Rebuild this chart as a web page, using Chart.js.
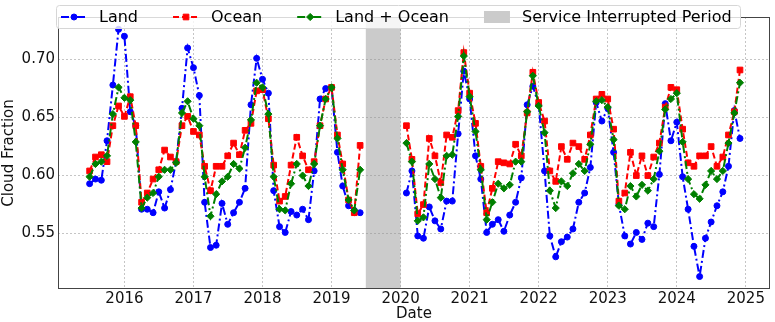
<!DOCTYPE html>
<html><head><meta charset="utf-8">
<script src="https://cdn.jsdelivr.net/npm/chart.js@4.4.1/dist/chart.umd.min.js"></script>
<style>html,body{margin:0;padding:0;background:#fff}#wrap{width:775px;height:322px}</style>
</head><body><div id="wrap"><canvas id="c" width="775" height="322"></canvas></div>
<script>
// ---- periods (first-of-month dates) ----
const period1 = ['2015-07', '2019-06'];
const period2 = ['2020-02', '2024-12'];
const interruption = ['2019-07', '2020-01'];
const yearTicks = [2016, 2017, 2018, 2019, 2020, 2021, 2022, 2023, 2024, 2025];
const yTicks = [0.55, 0.60, 0.65, 0.70];
const xLimits = [2015.038, 2025.35];

// ---- series values ----
const land1 = [0.593,0.597,0.596,0.630,0.678,0.726,
  0.720,0.655,0.643,0.571,0.571,0.568,0.586,0.572,0.588,0.612,0.658,0.710,
  0.693,0.669,0.577,0.538,0.540,0.576,0.558,0.568,0.577,0.589,0.661,0.701,
  0.683,0.671,0.587,0.556,0.551,0.569,0.566,0.571,0.562,0.604,0.666,0.675,
  0.676,0.620,0.591,0.574,0.570,0.568];
const ocean1 = [0.604,0.616,0.618,0.612,0.643,0.660,
  0.651,0.668,0.643,0.577,0.585,0.597,0.605,0.622,0.616,0.612,0.643,0.651,
  0.638,0.635,0.608,0.587,0.608,0.608,0.617,0.628,0.618,0.639,0.645,0.673,
  0.674,0.649,0.609,0.578,0.582,0.609,0.633,0.617,0.605,0.612,0.643,0.666,
  0.676,0.635,0.610,0.579,0.568,0.626];
const both1 = [0.599,0.610,0.612,0.617,0.653,0.676,
  0.667,0.665,0.629,0.572,0.581,0.585,0.599,0.605,0.605,0.611,0.654,0.664,
  0.649,0.643,0.599,0.565,0.584,0.595,0.599,0.610,0.606,0.624,0.648,0.680,
  0.676,0.653,0.599,0.571,0.570,0.593,0.610,0.600,0.591,0.610,0.643,0.666,
  0.676,0.632,0.605,0.579,0.570,0.605];

const land2 = [0.585,0.604,0.548,0.546,0.573,0.561,0.554,0.578,0.578,0.636,0.690,
  0.666,0.617,0.597,0.551,0.558,0.562,0.552,0.566,0.577,0.598,0.661,0.677,
  0.661,0.604,0.548,0.530,0.543,0.547,0.554,0.577,0.585,0.607,0.663,0.647,
  0.658,0.620,0.575,0.548,0.541,0.551,0.545,0.559,0.556,0.601,0.662,0.630,
  0.646,0.599,0.571,0.539,0.513,0.546,0.560,0.574,0.586,0.608,0.656,0.632];
const ocean2 = [0.643,0.614,0.567,0.575,0.632,0.617,0.594,0.635,0.633,0.656,0.706,
  0.671,0.645,0.608,0.568,0.589,0.612,0.611,0.610,0.627,0.617,0.654,0.689,
  0.663,0.647,0.604,0.595,0.625,0.614,0.628,0.625,0.614,0.635,0.666,0.670,
  0.666,0.640,0.578,0.585,0.620,0.600,0.617,0.600,0.616,0.628,0.659,0.676,
  0.674,0.640,0.611,0.608,0.617,0.617,0.625,0.608,0.616,0.635,0.655,0.691];
const both2 = [0.628,0.612,0.561,0.564,0.610,0.597,0.581,0.617,0.618,0.651,0.703,
  0.668,0.638,0.605,0.562,0.577,0.593,0.589,0.592,0.612,0.612,0.655,0.686,
  0.660,0.637,0.587,0.572,0.595,0.591,0.602,0.610,0.604,0.627,0.664,0.665,
  0.659,0.631,0.574,0.571,0.591,0.582,0.592,0.587,0.597,0.621,0.657,0.666,
  0.671,0.629,0.597,0.584,0.580,0.592,0.604,0.597,0.604,0.628,0.654,0.680];

// ---- helpers ----
function decYear(s){
  const [Y,M] = s.split('-').map(Number);
  const t0 = Date.UTC(Y,0,1), t1 = Date.UTC(Y+1,0,1);
  return Y + (Date.UTC(Y,M-1,1)-t0)/(t1-t0);
}
function monthList(a,b){
  let [y,m] = a.split('-').map(Number); const [y2,m2] = b.split('-').map(Number);
  const out=[];
  while (y<y2 || (y===y2 && m<=m2)){ out.push(y+'-'+String(m).padStart(2,'0')); m++; if(m>12){m=1;y++;} }
  return out;
}
const months1 = monthList(period1[0], period1[1]).map(decYear);
const months2 = monthList(period2[0], period2[1]).map(decYear);
function series(v1, v2){
  const pts = months1.map((x,i)=>({x, y:v1[i]}));
  pts.push({x: decYear(interruption[0]), y: null});
  return pts.concat(months2.map((x,i)=>({x, y:v2[i]})));
}
const allY = land1.concat(land2, ocean1, ocean2, both1, both2);
const yMin0 = Math.min(...allY), yMax0 = Math.max(...allY), yPad = (yMax0-yMin0)*0.05;

const FONT = 'DejaVu Sans';
const BLUE='#0000ff', RED='#ff0000', GREEN='#008000', SHADE='#cbcbcb';

const styles = [
  {label:'Land', color:BLUE, dash:[8,3,2,3], pointStyle:'circle', radius:3},
  {label:'Ocean', color:RED, dash:[6,3], pointStyle:'rect', radius:4},
  {label:'Land + Ocean', color:GREEN, dash:[8,3,2,3], pointStyle:'rectRot', radius:3.6}
];
const values = [[land1,land2],[ocean1,ocean2],[both1,both2]];

const datasets = styles.map((s,i)=>({
  label:s.label, data: series(values[i][0], values[i][1]),
  borderColor:s.color, backgroundColor:s.color, borderWidth:2, borderDash:s.dash,
  pointStyle:s.pointStyle, pointRadius:s.radius, pointBackgroundColor:s.color,
  pointBorderColor:s.color, pointBorderWidth:1, tension:0, spanGaps:false,
  order: 3-i
}));

const shadePlugin = {
  id:'shade',
  beforeDraw(chart){
    const {ctx, chartArea:a, scales:{x}} = chart;
    const x0 = x.getPixelForValue(decYear(interruption[0]));
    const x1 = x.getPixelForValue(decYear(interruption[1]));
    ctx.save(); ctx.fillStyle = SHADE; ctx.fillRect(x0, a.top, x1-x0, a.bottom-a.top); ctx.restore();
  }
};
const framePlugin = {
  id:'frame',
  afterDatasetsDraw(chart){
    const {ctx, chartArea:a} = chart;
    ctx.save(); ctx.strokeStyle='#444'; ctx.lineWidth=1;
    ctx.strokeRect(Math.round(a.left)+0.5, Math.round(a.top)+0.5, Math.round(a.right-a.left)-1, Math.round(a.bottom-a.top)-1);
    // axis titles
    ctx.fillStyle='#111'; ctx.font='15px "'+FONT+'"'; ctx.textAlign='center'; ctx.textBaseline='middle';
    ctx.fillText('Date', (a.left+a.right)/2, a.bottom+25.5);
    ctx.translate(9, (a.top+a.bottom)/2); ctx.rotate(-Math.PI/2);
    ctx.fillText('Cloud Fraction', 0, 0);
    ctx.restore();
  }
};
const legendPlugin = {
  id:'legendBox',
  afterDraw(chart){
    const ctx = chart.ctx;
    ctx.save();
    const bx=56.5, by=5.5, bw=684, bh=23, r=3;
    ctx.beginPath();
    ctx.moveTo(bx+r,by); ctx.lineTo(bx+bw-r,by); ctx.quadraticCurveTo(bx+bw,by,bx+bw,by+r);
    ctx.lineTo(bx+bw,by+bh-r); ctx.quadraticCurveTo(bx+bw,by+bh,bx+bw-r,by+bh);
    ctx.lineTo(bx+r,by+bh); ctx.quadraticCurveTo(bx,by+bh,bx,by+bh-r);
    ctx.lineTo(bx,by+r); ctx.quadraticCurveTo(bx,by,bx+r,by); ctx.closePath();
    ctx.fillStyle='rgba(255,255,255,0.8)'; ctx.fill();
    ctx.strokeStyle='#d6d6d6'; ctx.lineWidth=1; ctx.stroke();
    const cy = by + bh/2;
    ctx.font = '16px "'+FONT+'"'; ctx.textBaseline='middle'; ctx.fillStyle='#000';
    let x = 61;
    styles.forEach(s=>{
      ctx.save();
      ctx.strokeStyle=s.color; ctx.lineWidth=2; ctx.setLineDash(s.dash);
      ctx.beginPath(); ctx.moveTo(x,cy); ctx.lineTo(x+26,cy); ctx.stroke();
      ctx.setLineDash([]);
      ctx.fillStyle=s.color; ctx.strokeStyle=s.color; ctx.lineWidth=1;
      Chart.helpers.drawPoint(ctx, {pointStyle:s.pointStyle, radius:s.radius, rotation:0, borderWidth:1}, x+13, cy);
      ctx.restore();
      ctx.fillStyle='#000';
      ctx.fillText(s.label, x+38, cy+1);
      x = x + 38 + ctx.measureText(s.label).width + 35;
    });
    ctx.fillStyle=SHADE; ctx.fillRect(x, cy-6, 26, 12);
    ctx.fillStyle='#000'; ctx.fillText('Service Interrupted Period', x+38, cy+1);
    ctx.restore();
  }
};

new Chart(document.getElementById('c'), {
  type:'line',
  data:{datasets},
  plugins:[shadePlugin, framePlugin, legendPlugin],
  options:{
    responsive:false, animation:false, devicePixelRatio:1,
    layout:{padding:{top:17, right:5, left:18.6, bottom:11.7}},
    plugins:{legend:{display:false}, tooltip:{enabled:false}},
    scales:{
      x:{type:'linear', min:xLimits[0], max:xLimits[1],
        afterBuildTicks(ax){ ax.ticks = yearTicks.map(v=>({value:v})); },
        ticks:{callback:v=>String(v), font:{family:FONT, size:15, lineHeight:1.0}, color:'#111', padding:3.2, maxRotation:0, autoSkip:false},
        grid:{color:'rgba(150,150,150,0.55)', lineWidth:1, drawTicks:false},
        border:{display:false, dash:[2,2]}
      },
      y:{type:'linear', min:yMin0-yPad, max:yMax0+yPad,
        afterBuildTicks(ax){ ax.ticks = yTicks.map(v=>({value:v})); },
        ticks:{callback:v=>v.toFixed(2), font:{family:FONT, size:15}, color:'#111', padding:3},
        grid:{color:'rgba(150,150,150,0.55)', lineWidth:1, drawTicks:false},
        border:{display:false, dash:[2,2]}
      }
    }
  }
});
</script></body></html>
